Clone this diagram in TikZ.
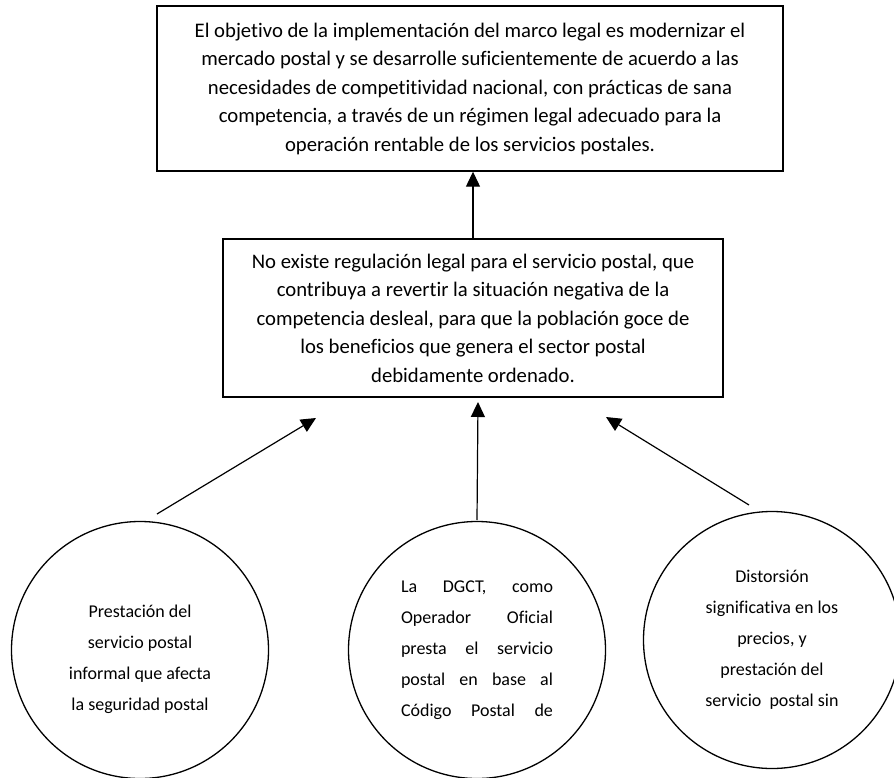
\documentclass[tikz,border=0pt]{standalone}
\usepackage{fontspec}
\setmainfont{Carlito}[Ligatures=NoCommon]
\usetikzlibrary{arrows.meta}

% one justified line of the middle cause
\newcommand{\jline}[1]{\hbox to 152pt{#1}}

\begin{document}
\begin{tikzpicture}[x=1pt, y=-1pt,
        box/.style={draw, rectangle, line width=1.4pt, inner sep=0pt, align=center, font=\fontsize{20.7}{28.5}\selectfont},
        bubble/.style={draw, circle, line width=1.3pt, inner sep=0pt, minimum size=257pt, align=center, font=\fontsize{18}{31}\selectfont},
        arr/.style={-{Triangle[length=15pt, width=14pt]}, line width=1.2pt}]
        \useasboundingbox (0,0) rectangle (894,778);

        % Objective and problem boxes
        \node[box, minimum width=626pt, minimum height=165pt] (goal) at (470,88.5) {El objetivo de la implementación del marco legal es modernizar el\\ mercado postal y se desarrolle suficientemente de acuerdo a las\\ necesidades de competitividad nacional, con prácticas de sana\\ competencia, a través de un régimen legal adecuado para la\\ operación rentable de los servicios postales.};
        \node[box, minimum width=500pt, minimum height=158pt] (problem) at (473,318) {No existe regulación legal para el servicio postal, que\\ contribuya a revertir la situación negativa de la\\ competencia desleal, para que la población goce de\\ los beneficios que genera el sector postal\\ debidamente ordenado.};

        % Causes
        \node[bubble] (cause1) at (140,650) {\mbox{}\\ Prestación del\\ servicio postal\\ informal que afecta\\ la seguridad postal};
        \node[draw, circle, line width=1.3pt, inner sep=0pt, minimum size=257pt, font=\fontsize{18}{31}\selectfont] (cause2) at (477,650) {\vbox{\jline{La\hfill DGCT,\hfill como}\jline{Operador\hfill Oficial}\jline{presta\hfill el\hfill servicio}\jline{postal\hfill en\hfill base\hfill al}\jline{Código\hfill Postal\hfill de}}};
        \node[bubble] (cause3) at (772,640) {Distorsión\\ significativa en los\\ precios, y\\ prestación del\\ servicio~ postal sin};

        % Free arrow ends
        \coordinate (s1) at (157,514);  \coordinate (e1) at (316,418);
        \coordinate (s2) at (477,520);  \coordinate (e2) at (478,402);
        \coordinate (s3) at (749,505);  \coordinate (e3) at (606,417);

        \draw[arr] (s1) -- (e1);
        \draw[arr] (s2) -- (e2);
        \draw[arr] (s3) -- (e3);
        \draw[arr] (problem.north) -- (problem.north |- goal.south);
    \end{tikzpicture}
\end{document}
